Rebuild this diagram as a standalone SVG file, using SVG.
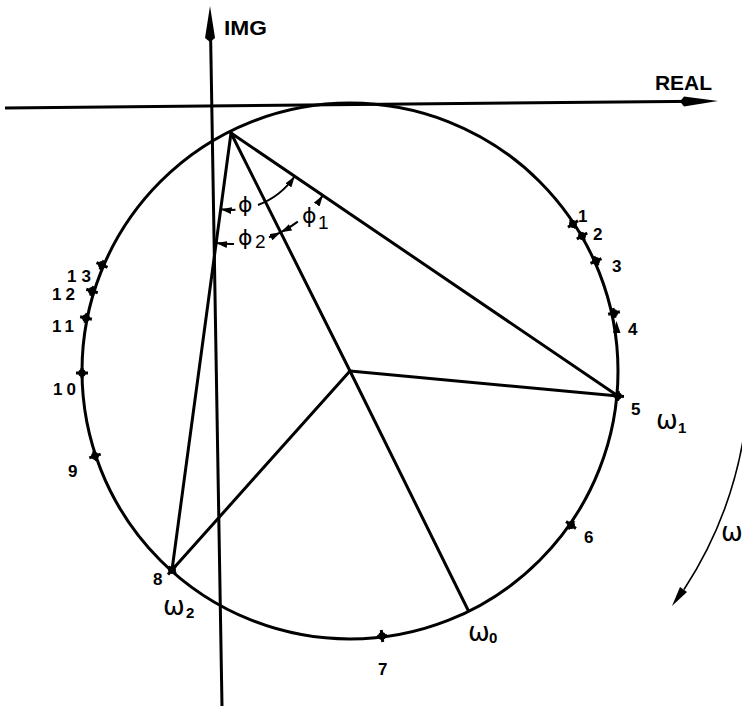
<svg xmlns="http://www.w3.org/2000/svg" width="742" height="706" viewBox="0 0 742 706">
<defs>
<style>
.ax{stroke:#000;stroke-width:3;fill:none}
.ln{stroke:#000;stroke-width:3;fill:none;stroke-linecap:round}
.ang{stroke:#000;stroke-width:2;fill:none}
.num{font-family:"Liberation Sans",Arial,sans-serif;font-weight:bold;font-size:17px;fill:#000}
.ttl{font-family:"Liberation Sans",Arial,sans-serif;font-weight:bold;font-size:20px;fill:#000}
.om{font-family:"DejaVu Sans","Liberation Sans",sans-serif;font-size:26px;fill:#000}
.sub{font-family:"Liberation Sans",Arial,sans-serif;font-weight:bold;font-size:15px;fill:#000}
.phi{font-family:"DejaVu Sans","Liberation Sans",sans-serif;font-size:22px;fill:#000}
.psub{font-family:"Liberation Sans",Arial,sans-serif;font-size:19px;fill:#000}
</style>
<marker id="ah" viewBox="0 0 11 7" refX="11" refY="3.5" markerWidth="11" markerHeight="7" markerUnits="userSpaceOnUse" orient="auto">
<path d="M0,0 L11,3.5 L0,7 z" fill="#000"/>
</marker>
<g id="tick"><path d="M-6,0 L6,0 M0,-5 L0,5" stroke="#000" stroke-width="3"/><circle r="3.8" fill="#000"/></g>
</defs>
<rect width="742" height="706" fill="#fff"/>

<g id="axes">
<line class="ax" x1="5" y1="108" x2="700" y2="101.2"/>
<polygon points="718,101 684,96.5 680,101.5 684,106.5" fill="#000"/>
<line class="ax" x1="210.5" y1="30" x2="222" y2="706"/>
<polygon points="210,6 215,38 210,42 205,38" fill="#000"/>
<text class="ttl" x="224" y="35" textLength="43" lengthAdjust="spacingAndGlyphs">IMG</text>
<text class="ttl" x="655" y="90" textLength="57" lengthAdjust="spacingAndGlyphs">REAL</text>
</g>

<g id="circle">
<circle cx="350" cy="371" r="268" stroke="#000" stroke-width="3" fill="none"/>
</g>

<g id="connectors">
<line class="ln" x1="231" y1="133" x2="618" y2="396"/>
<line class="ln" x1="231" y1="133" x2="350" y2="371"/>
<line class="ln" x1="231" y1="133" x2="172" y2="570"/>
<line class="ln" x1="350" y1="371" x2="618" y2="396"/>
<line class="ln" x1="350" y1="371" x2="172" y2="570"/>
<line class="ln" x1="350" y1="371" x2="468" y2="610"/>
</g>

<g id="angles">
<path class="ang" d="M235.5,209.8 A77,77 0 0 1 220.7,209.3" marker-end="url(#ah)"/>
<path class="ang" d="M258,205 A77,77 0 0 0 294.7,176.3" marker-end="url(#ah)"/>
<path class="ang" d="M234,244 A111,111 0 0 1 216.2,243" marker-end="url(#ah)"/>
<path class="ang" d="M269,237.3 A111,111 0 0 0 280.7,232.3" marker-end="url(#ah)"/>
<path class="ang" d="M297.8,221.6 A111,111 0 0 1 280.7,232.3" marker-end="url(#ah)"/>
<path class="ang" d="M317.3,202.9 A111,111 0 0 0 322.8,195.4" marker-end="url(#ah)"/>
<text class="phi" x="238" y="212">ϕ</text>
<text class="phi" x="238" y="245">ϕ</text><text class="psub" x="255" y="248">2</text>
<text class="phi" x="302" y="223">ϕ</text><text class="psub" x="318" y="229">1</text>
</g>

<g id="p1"><use href="#tick" transform="translate(573,224) rotate(-33.5)"/><text class="num" x="578" y="222">1</text></g>
<g id="p2"><use href="#tick" transform="translate(582,236) rotate(-30.3)"/><text class="num" x="593" y="240">2</text></g>
<g id="p3"><use href="#tick" transform="translate(596,261) rotate(-24.2)"/><text class="num" x="612" y="272">3</text></g>
<g id="p4"><use href="#tick" transform="translate(614,313) rotate(-12.6)"/><polygon points="616.5,321 620.5,333 613,333" fill="#000"/><text class="num" x="628" y="335">4</text></g>
<g id="p5"><use href="#tick" transform="translate(618,396) rotate(5)"/><text class="num" x="631" y="415">5</text></g>
<g id="p6"><use href="#tick" transform="translate(571,525) rotate(34.6)"/><text class="num" x="584" y="543">6</text></g>
<g id="p7"><use href="#tick" transform="translate(382,636) rotate(82.9)"/><text class="num" x="378" y="675">7</text></g>
<g id="p8"><use href="#tick" transform="translate(172,570) rotate(131.8)"/><text class="num" x="153" y="585" font-size="13" font-weight="normal">8</text></g>
<g id="p9"><use href="#tick" transform="translate(95,456) rotate(161.7)"/><text class="num" x="68" y="477">9</text></g>
<g id="p10"><use href="#tick" transform="translate(82,373) rotate(180)"/><text class="num" x="53" y="395" letter-spacing="4">10</text></g>
<g id="p11"><use href="#tick" transform="translate(86,318) rotate(191.6)"/><text class="num" x="52" y="332" letter-spacing="4">11</text></g>
<g id="p12"><use href="#tick" transform="translate(92,291) rotate(197.5)"/><text class="num" x="52" y="300" letter-spacing="4">12</text></g>
<g id="p13"><use href="#tick" transform="translate(102,265) rotate(203.4)"/><text class="num" x="67" y="282" letter-spacing="5">13</text></g>

<g id="omegas">
<text class="om" x="656" y="429">ω</text><text class="sub" x="678" y="433">1</text>
<text class="om" x="163" y="615">ω</text><text class="sub" x="186" y="618">2</text>
<text class="om" x="468" y="641">ω</text><text class="sub" x="489" y="643">0</text>
<text class="om" x="721" y="541">ω</text>
</g>

<g id="direction">
<path d="M744.4,432.4 A400,400 0 0 1 684,589.5" stroke="#000" stroke-width="1.6" fill="none"/>
<polygon points="672,606 687,592 680,587" fill="#000"/>
</g>
</svg>
